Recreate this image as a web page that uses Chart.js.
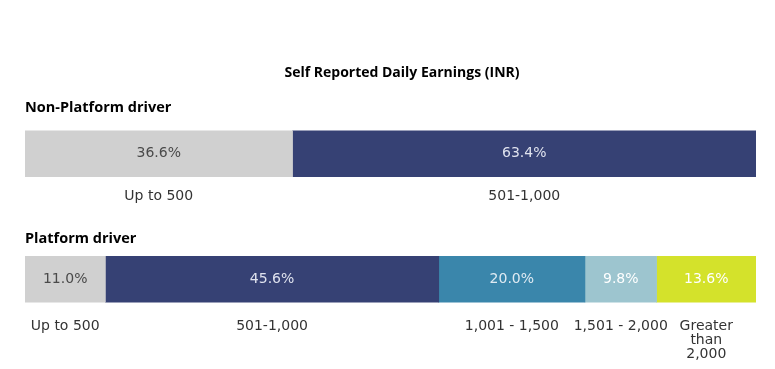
<!DOCTYPE html>
<html>
<head>
<meta charset="utf-8">
<script src="https://cdn.jsdelivr.net/npm/chart.js@4.4.1/dist/chart.umd.min.js"></script>
<style>
  html, body { margin: 0; padding: 0; background: #fff; }
  canvas { display: block; }
</style>
</head>
<body>
<canvas id="earnChart" width="775" height="369"></canvas>
<script>
// rows of the chart
const groups = ['Non-Platform driver', 'Platform driver'];

// earnings bands (INR per day) - shown under each segment
const bands = ['Up to 500', '501-1,000', '1,001 - 1,500', '1,501 - 2,000', 'Greater than 2,000'];
const bandLines = [['Up to 500'], ['501-1,000'], ['1,001 - 1,500'], ['1,501 - 2,000'], ['Greater', 'than', '2,000']];

// share of drivers, %
const nonPlatform = [36.6, 63.4, null, null, null];
const platform = [11.0, 45.6, 20.0, 9.8, 13.6];

const bandColors = ['#d0d0d0', '#364174', '#3a86ab', '#9dc5cf', '#d4e22b'];
const valueColors = ['#4a4a4a', '#dfe2ee', '#dfeaf2', '#ffffff', '#ffffff'];

const chartTitle = 'Self Reported Daily Earnings (INR)';

const textPlugin = {
  id: 'textPlugin',
  afterDatasetsDraw(chart) {
    const ctx = chart.ctx;
    const area = chart.chartArea;
    ctx.save();
    ctx.textBaseline = 'middle';

    // title
    ctx.fillStyle = '#000';
    ctx.font = 'bold 14px "Open Sans"';
    ctx.textAlign = 'center';
    ctx.fillText(chartTitle, 402, 73);

    // row headings
    const headGap = [23, 17];
    const labelGap = [20, 24];
    const firstMeta = chart.getDatasetMeta(0);
    groups.forEach((g, r) => {
      const bar = firstMeta.data[r];
      const top = bar.y - bar.height / 2;
      ctx.textAlign = 'left';
      ctx.fillStyle = '#000';
      ctx.font = 'bold 14.5px "Open Sans"';
      ctx.fillText(g, area.left, top - headGap[r]);
    });

    chart.data.datasets.forEach((ds, i) => {
      const meta = chart.getDatasetMeta(i);
      meta.data.forEach((bar, r) => {
        const v = ds.data[r];
        if (v == null) return;
        const cx = (bar.x + bar.base) / 2;
        ctx.textAlign = 'center';
        ctx.font = '14px "DejaVu Sans"';
        ctx.fillStyle = valueColors[i];
        ctx.fillText(v.toFixed(1) + '%', cx, bar.y);

        const bottom = bar.y + bar.height / 2;
        ctx.fillStyle = '#333';
        bandLines[i].forEach((line, k) => {
          ctx.fillText(line, cx, bottom + labelGap[r] + k * 14);
        });
      });
    });
    ctx.restore();
  }
};

new Chart(document.getElementById('earnChart'), {
  type: 'bar',
  data: {
    labels: groups,
    datasets: bands.map((b, i) => ({
      label: b,
      data: [nonPlatform[i], platform[i]],
      backgroundColor: bandColors[i],
      borderWidth: 0,
      barThickness: 46
    }))
  },
  options: {
    indexAxis: 'y',
    responsive: false,
    animation: false,
    layout: { padding: { top: 91, bottom: 27, left: 25, right: 19 } },
    plugins: {
      legend: { display: false },
      tooltip: { enabled: false }
    },
    scales: {
      x: { stacked: true, min: 0, max: 100, display: false },
      y: { stacked: true, display: false }
    }
  },
  plugins: [textPlugin]
});
</script>
</body>
</html>
